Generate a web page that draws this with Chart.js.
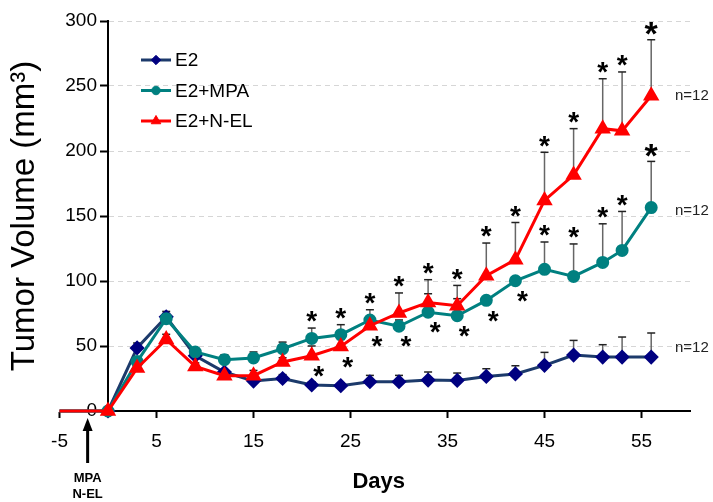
<!DOCTYPE html>
<html>
<head>
<meta charset="utf-8">
<script src="https://cdn.jsdelivr.net/npm/chart.js@4.4.0/dist/chart.umd.min.js"></script>
<style>
html, body { margin: 0; padding: 0; background: #fff; }
</style>
</head>
<body>
<canvas id="tumorChart" width="713" height="502"></canvas>
<script>
// days of the experiment
const days = [-5, 0, 3, 6, 9, 12, 15, 18, 21, 24, 27, 30, 33, 36, 39, 42, 45, 48, 51, 53, 56];
const dayTicks = [-5, 5, 15, 25, 35, 45, 55];

const seriesNames = ['E2', 'E2+MPA', 'E2+N-EL'];

// mean tumor volume (mm3)
const e2 = [0, 0, 48.5, 72.5, 42.5, 30, 23, 25, 20, 19.5, 22.5, 22.5, 23.8, 23.5, 26.6, 28.5, 35.1, 43, 41.5, 41.5, 41.5];
const e2Mpa = [0, 0, 38, 71, 45.4, 39.5, 40.8, 47.9, 55.8, 58.7, 70, 65.2, 76, 73.3, 85.1, 100.2, 109, 103.5, 114.3, 123.5, 156.5];
const e2Nel = [0, 0, 33, 55, 34.3, 27.2, 27.2, 37.7, 42.5, 49.7, 65.6, 75.4, 83.5, 81, 104, 116.4, 162, 181.5, 217.2, 215.5, 242.5];

// top of the error bars (mean + SEM)
const e2Err = [null, null, 52.3, 76.6, 45, 31.5, 25.5, 28, 22.5, 21.5, 27.4, 27.4, 30, 29.2, 32.5, 34.8, 45.1, 54.3, 51, 56.9, 60];
const e2MpaErr = [null, null, 40.5, 75, 47.5, 43.3, 45.4, 53, 63.8, 66.4, 77.9, 70, 90.2, 86.4, null, null, 130, 128.5, 144, 153.5, 192];
const e2NelErr = [null, null, 36, 59, 37, 30, 31.2, 41, 50, 55, 70, 90.8, 101, 96.6, 129.2, 145, 199, 217.2, 255.6, 260.8, 285.6];

// significance marks: 'up' over the error bar, 'down' under the point
const e2Stars = days.map(() => '');
const e2MpaStars = ['', '', '', '', '', '', '', '', 'up', 'up', 'up', 'down', 'down', 'down', 'down', 'down', 'up', 'up', 'up', 'up', 'up'];
const e2NelStars = ['', '', '', '', '', '', '', '', 'down', 'down', 'down', 'up', 'up', 'up', 'up', 'up', 'up', 'up', 'up', 'up', 'up'];

// group size labels and where they sit (mm3)
const groupSize = ['n=12', 'n=12', 'n=12'];
const groupSizeAt = [48.5, 154, 242.5];

// treatment start marker
const treatmentDay = -2.1;
const treatmentLabel = ['MPA', 'N-EL'];

const FONT = "'Liberation Sans', Arial, sans-serif";
Chart.defaults.font.family = FONT;

function points(vals) {
  return days.map((d, i) => ({ x: d, y: vals[i] }));
}

// error bars under the lines
const errorBars = {
  id: 'errorBars',
  beforeDatasetsDraw(chart) {
    const { ctx, scales: { x, y } } = chart;
    ctx.save();
    chart.data.datasets.forEach(ds => {
      ds.errTop.forEach((top, j) => {
        if (top == null) return;
        const px = x.getPixelForValue(days[j]);
        const py = y.getPixelForValue(ds.data[j].y);
        const pt = y.getPixelForValue(top);
        ctx.strokeStyle = '#666';
        ctx.lineWidth = 1.5;
        ctx.beginPath(); ctx.moveTo(px, py); ctx.lineTo(px, pt); ctx.stroke();
        ctx.strokeStyle = '#222';
        ctx.beginPath(); ctx.moveTo(px - 4, pt); ctx.lineTo(px + 4, pt); ctx.stroke();
      });
    });
    ctx.restore();
  }
};

// asterisks
const stars = {
  id: 'stars',
  afterDatasetsDraw(chart) {
    const { ctx, scales: { x, y } } = chart;
    ctx.save();
    ctx.fillStyle = '#000';
    ctx.textAlign = 'center';
    ctx.textBaseline = 'alphabetic';
    chart.data.datasets.forEach(ds => {
      ds.stars.forEach((s, j) => {
        if (!s) return;
        const size = j === days.length - 1 ? 34 : 28;
        ctx.font = 'bold ' + size + 'px ' + FONT;
        const px = x.getPixelForValue(days[j]);
        let cx = px, cy;
        if (s === 'up') {
          cy = y.getPixelForValue(ds.errTop[j]) - 14;
        } else {
          cx = px + 7;
          cy = y.getPixelForValue(ds.data[j].y) + 13;
        }
        ctx.fillText('*', cx, cy + size * 0.58);
      });
    });
    ctx.restore();
  }
};

// legend with line + marker, inside the plot
const legendBox = {
  id: 'legendBox',
  afterDraw(chart) {
    const { ctx, chartArea } = chart;
    const x0 = chartArea.left + 33, y0 = chartArea.top + 39;
    ctx.save();
    ctx.font = '19px ' + FONT;
    ctx.textBaseline = 'middle';
    seriesNames.forEach((name, i) => {
      const ds = chart.data.datasets.find(d => d.label === name);
      const yy = y0 + i * 30.5;
      ctx.strokeStyle = ds.borderColor;
      ctx.lineWidth = ds.borderWidth;
      ctx.beginPath(); ctx.moveTo(x0, yy); ctx.lineTo(x0 + 30, yy); ctx.stroke();
      ctx.fillStyle = ds.pointBackgroundColor;
      ctx.strokeStyle = ds.pointBorderColor;
      ctx.lineWidth = 1;
      Chart.helpers.drawPoint(ctx, { pointStyle: ds.pointStyle, radius: ds.pointRadius * 0.85, borderWidth: 1, rotation: 0 }, x0 + 15, yy);
      ctx.fillStyle = '#000';
      ctx.fillText(name, x0 + 34, yy + 1);
    });
    ctx.restore();
  }
};

// texts: n=12, Days, treatment arrow
const annotations = {
  id: 'annotations',
  afterDraw(chart) {
    const { ctx, chartArea, scales: { x, y } } = chart;
    ctx.save();
    ctx.fillStyle = '#222';
    ctx.font = '15px ' + FONT;
    ctx.textAlign = 'left';
    ctx.textBaseline = 'middle';
    groupSize.forEach((t, i) => {
      ctx.fillText(t, chartArea.right - 15, y.getPixelForValue(groupSizeAt[i]));
    });

    ctx.fillStyle = '#000';
    ctx.font = 'bold 22px ' + FONT;
    ctx.textAlign = 'center';
    ctx.fillText('Days', (x.getPixelForValue(-5) + chartArea.right) / 2 + 4, chartArea.bottom + 71);

    const ax = x.getPixelForValue(treatmentDay);
    const top = chartArea.bottom + 7, bottom = chartArea.bottom + 52;
    ctx.strokeStyle = '#000';
    ctx.lineWidth = 3;
    ctx.beginPath(); ctx.moveTo(ax, bottom); ctx.lineTo(ax, top + 10); ctx.stroke();
    ctx.beginPath(); ctx.moveTo(ax, top); ctx.lineTo(ax - 5, top + 13); ctx.lineTo(ax + 5, top + 13); ctx.closePath(); ctx.fill();
    ctx.font = 'bold 13px ' + FONT;
    treatmentLabel.forEach((t, i) => ctx.fillText(t, ax, chartArea.bottom + 67 + i * 16));
    ctx.restore();
  }
};

const ctx = document.getElementById('tumorChart');

new Chart(ctx, {
  type: 'line',
  data: {
    datasets: [
      {
        label: 'E2+N-EL', data: points(e2Nel), errTop: e2NelErr, stars: e2NelStars,
        borderColor: '#ff0000', backgroundColor: '#ff0000', borderWidth: 3,
        pointStyle: 'triangle', pointRadius: 6.5, pointBackgroundColor: '#ff0000', pointBorderColor: '#ff0000',
        order: 0, clip: false
      },
      {
        label: 'E2+MPA', data: points(e2Mpa), errTop: e2MpaErr, stars: e2MpaStars,
        borderColor: '#008080', backgroundColor: '#008080', borderWidth: 3,
        pointStyle: 'circle', pointRadius: 5, pointBackgroundColor: '#008080', pointBorderColor: '#008080',
        order: 1, clip: false
      },
      {
        label: 'E2', data: points(e2), errTop: e2Err, stars: e2Stars,
        borderColor: '#1c3a6b', backgroundColor: '#000080', borderWidth: 3,
        pointStyle: 'rectRot', pointRadius: 5.5, pointBackgroundColor: '#000080', pointBorderColor: '#000080',
        order: 2, clip: false
      }
    ]
  },
  options: {
    responsive: false,
    animation: false,
    layout: { padding: { top: 21, right: 23, left: 0, bottom: 0 } },
    plugins: { legend: { display: false }, tooltip: { enabled: false } },
    scales: {
      x: {
        type: 'linear', min: 0, max: 60,
        afterBuildTicks: s => { s.ticks = dayTicks.map(v => ({ value: v })); },
        afterFit: s => { s.height = 91; },
        ticks: { autoSkip: false, maxRotation: 0, padding: 12, color: '#000', font: { size: 19 } },
        grid: { drawOnChartArea: false, tickLength: 7, tickColor: '#000', tickWidth: 2 },
        border: { color: '#000', width: 2 }
      },
      y: {
        min: 0, max: 300,
        afterFit: s => { s.width = 108; },
        ticks: { stepSize: 50, padding: 3, color: '#000', font: { size: 19 } },
        grid: { color: c => c.tick && c.tick.value === 0 ? 'rgba(0,0,0,0)' : '#d6d6d6', lineWidth: 1, tickLength: 8, tickColor: '#000', tickWidth: 2 },
        border: { color: '#000', width: 2, dash: [5, 4] },
        title: { display: true, text: 'Tumor Volume (mm³)', color: '#000', font: { size: 33 }, padding: { top: 5, bottom: 0 } }
      }
    }
  },
  plugins: [errorBars, stars, legendBox, annotations]
});
</script>
</body>
</html>
